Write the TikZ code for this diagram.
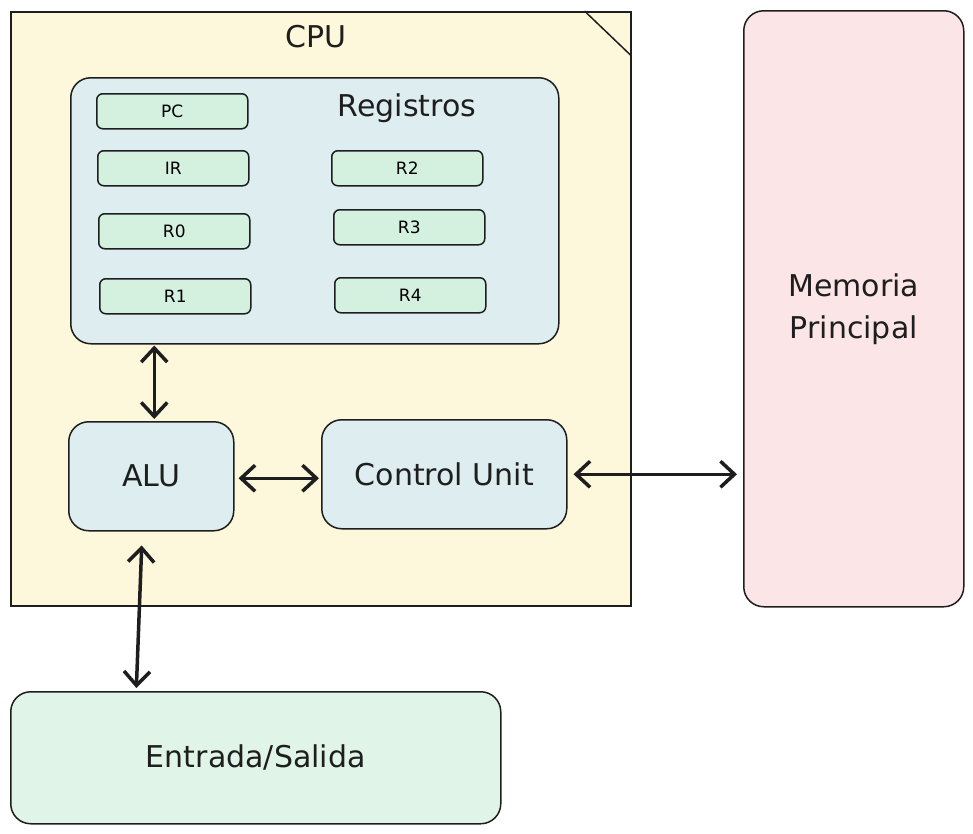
\documentclass[tikz,border=0pt]{standalone}
\usepackage{fontspec}
\setmainfont{DejaVu Sans}
\usetikzlibrary{arrows.meta}
\definecolor{ink}{HTML}{1E1E1E}
\definecolor{cpufill}{HTML}{FDF7DC}
\definecolor{regsfill}{HTML}{DDEDF0}
\definecolor{regfill}{HTML}{D4F0DF}
\definecolor{memfill}{HTML}{FBE5E7}
\definecolor{iofill}{HTML}{E0F5E8}
\begin{document}
\begin{tikzpicture}[x=1pt,y=-1pt,
  box/.style={draw=ink, line width=1.5pt, anchor=north west, inner sep=0pt},
  bigbox/.style={box, rounded corners=20pt},
  regbox/.style={box, rounded corners=6pt, fill=regfill, minimum width=151pt, minimum height=35pt, font=\fontsize{17}{20}\selectfont},
  bigtext/.style={font=\fontsize{30}{42}\selectfont, text=ink},
  biarrow/.style={draw=ink, line width=3.5pt, {Straight Barb[length=14pt,width=26pt]}-{Straight Barb[length=14pt,width=26pt]}}
]
\useasboundingbox (0,0) rectangle (973,833);
% CPU
\node[box, fill=cpufill, minimum width=620pt, minimum height=594pt] (cpu) at (10,11) {};
\draw[ink, line width=1.5pt] ([xshift=-47pt]cpu.north east) -- ([yshift=-45pt]cpu.north east);
\node[bigtext] (cpulabel) at (316,37) {CPU};
% Registros
\node[bigbox, fill=regsfill, minimum width=488pt, minimum height=266pt] (regs) at (70,77) {};
\node[bigtext] (regslabel) at (407,108) {Registros};
\node[regbox] (pc) at (96,93) {PC};
\node[regbox] (ir) at (97,150) {IR};
\node[regbox] (r0) at (98,213) {R0};
\node[regbox] (r1) at (99,278) {R1};
\node[regbox] (r2) at (331,150) {R2};
\node[regbox] (r3) at (333,209) {R3};
\node[regbox] (r4) at (334,277) {R4};
% ALU and CU
\node[bigbox, fill=regsfill, minimum width=165pt, minimum height=109pt, bigtext] (alu) at (68,421) {ALU};
\node[bigbox, fill=regsfill, minimum width=245pt, minimum height=109pt, bigtext] (cu) at (321,419) {Control Unit};
% Memoria
\node[bigbox, fill=memfill, minimum width=220pt, minimum height=596pt, bigtext, align=center] (mem) at (743,10) {Memoria\\Principal};
% IO
\node[bigbox, fill=iofill, minimum width=490pt, minimum height=132pt, bigtext] (io) at (10,691) {Entrada/Salida};
% arrows
\draw[biarrow, shorten <=1pt, shorten >=2pt] ([xshift=3pt]alu.north |- regs.south) -- ([xshift=3pt]alu.north);
\draw[biarrow, shorten <=4pt, shorten >=2pt] ([yshift=-2pt]alu.east) -- ([yshift=-2pt]alu.east -| cu.west);
\draw[biarrow, shorten <=6pt, shorten >=6pt] (cu.east) -- (cu.east -| mem.west);
\draw[biarrow, shorten <=14pt, shorten >=3pt] ([xshift=-9pt]alu.south) -- ([xshift=-15pt]alu.south |- io.north);
\end{tikzpicture}
\end{document}
